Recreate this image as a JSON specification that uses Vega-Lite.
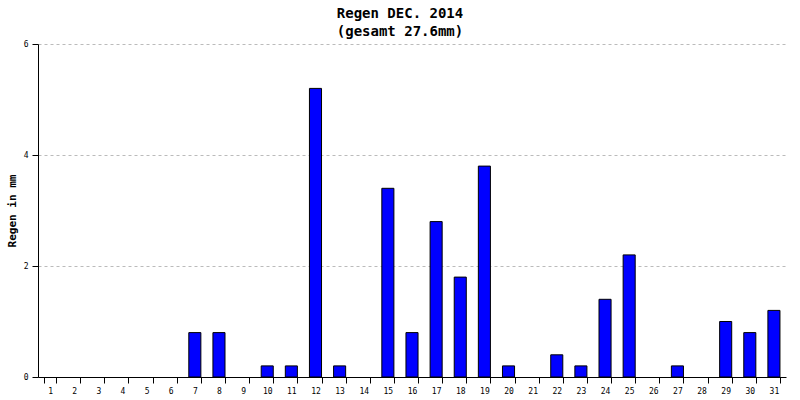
{
  "$schema": "https://vega.github.io/schema/vega-lite/v6.json",
  "autosize": "none",
  "width": 748,
  "height": 333,
  "padding": {"left": 38, "top": 44, "right": 14, "bottom": 23},
  "background": "white",
  "title": {
    "text": ["Regen DEC. 2014", "(gesamt 27.6mm)"],
    "font": "DejaVu Sans Mono",
    "fontSize": 14,
    "fontWeight": "bold",
    "color": "black",
    "anchor": "middle",
    "dx": -12,
    "offset": 1,
    "lineHeight": 18
  },
  "data": {
    "values": [
      {"day": "1", "mm": 0}, {"day": "2", "mm": 0}, {"day": "3", "mm": 0},
      {"day": "4", "mm": 0}, {"day": "5", "mm": 0}, {"day": "6", "mm": 0},
      {"day": "7", "mm": 0.8}, {"day": "8", "mm": 0.8}, {"day": "9", "mm": 0},
      {"day": "10", "mm": 0.2}, {"day": "11", "mm": 0.2}, {"day": "12", "mm": 5.2},
      {"day": "13", "mm": 0.2}, {"day": "14", "mm": 0}, {"day": "15", "mm": 3.4},
      {"day": "16", "mm": 0.8}, {"day": "17", "mm": 2.8}, {"day": "18", "mm": 1.8},
      {"day": "19", "mm": 3.8}, {"day": "20", "mm": 0.2}, {"day": "21", "mm": 0},
      {"day": "22", "mm": 0.4}, {"day": "23", "mm": 0.2}, {"day": "24", "mm": 1.4},
      {"day": "25", "mm": 2.2}, {"day": "26", "mm": 0}, {"day": "27", "mm": 0.2},
      {"day": "28", "mm": 0}, {"day": "29", "mm": 1.0}, {"day": "30", "mm": 0.8},
      {"day": "31", "mm": 1.2}
    ]
  },
  "config": {
    "view": {"stroke": null},
    "axis": {"labelFont": "DejaVu Sans Mono", "labelFontSize": 8, "labelColor": "black", "domainColor": "black", "tickColor": "black", "titleFont": "DejaVu Sans Mono"}
  },
  "mark": {"type": "bar", "color": "#0000ff", "stroke": "black", "strokeWidth": 1},
  "encoding": {
    "x": {
      "field": "day", "type": "ordinal", "sort": null,
      "scale": {"paddingInner": 0.5, "paddingOuter": 0.25},
      "axis": {"title": null, "labelAngle": 0, "tickBand": "extent", "tickSize": 6, "labelPadding": 4, "grid": false, "domainWidth": 1}
    },
    "y": {
      "field": "mm", "type": "quantitative",
      "scale": {"domain": [0, 6], "nice": false},
      "axis": {
        "title": "Regen in mm", "titleFontSize": 11, "titleFontWeight": "bold", "titleColor": "black",
        "titlePadding": 6,
        "values": [0, 2, 4, 6], "tickSize": 6, "labelPadding": 4,
        "grid": true, "gridColor": "#bbbbbb", "gridDash": [3, 3]
      }
    },
    "strokeOpacity": {"condition": {"test": "datum.mm == 0", "value": 0}, "value": 1},
    "fillOpacity": {"condition": {"test": "datum.mm == 0", "value": 0}, "value": 1}
  }
}
